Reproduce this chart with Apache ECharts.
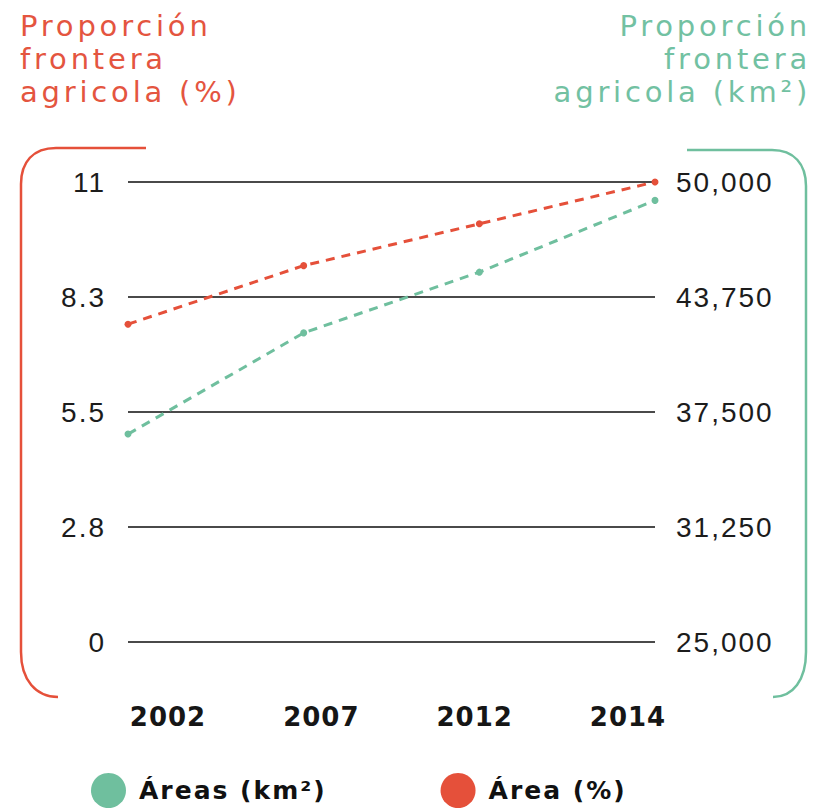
<!DOCTYPE html>
<html>
<head>
<meta charset="utf-8">
<script src="https://cdn.jsdelivr.net/npm/echarts@6/dist/echarts.min.js"></script>
<style>
  html, body { margin: 0; padding: 0; background: #fff; }
  #chart { width: 814px; height: 809px; }
  /* spaced lettering like the original typography */
  #chart text[fill="#e4553f"], #chart text[fill="#72c1a2"] { letter-spacing: 3.8px; }
  #chart text[fill="#1c1c1c"] { letter-spacing: 2px; }
  #chart text[fill="#111111"] { letter-spacing: 2px; }
  #chart text[fill="#161616"] { letter-spacing: 1px; }
</style>
</head>
<body>
<div id="chart"></div>
<script>
  // data
  var years = ['2002', '2007', '2012', '2014']
  var areaKm2 = [36300, 41800, 45100, 49000]   // Áreas (km²), right axis
  var areaPct = [7.6, 9.0, 10.0, 11.0]         // Área (%), left axis
  var leftTicks = ['0', '2.8', '5.5', '8.3', '11']
  var rightTicks = ['25,000', '31,250', '37,500', '43,750', '50,000']

  var RED = '#e5503a'
  var GREEN = '#6fbf9e'

  var chart = echarts.init(document.getElementById('chart'), null, { renderer: 'svg' })

  var tickStyle = {
    color: '#1c1c1c',
    fontFamily: 'Liberation Sans',
    fontSize: 28
  }

  // rounded bracket decorations
  function bracket (pts, color) {
    var s = { stroke: color, lineWidth: 2.5, fill: null }
    return [
      { type: 'line', shape: { x1: pts[0][0], y1: pts[0][1], x2: pts[1][0], y2: pts[1][1] }, style: s },
      { type: 'bezierCurve', shape: { x1: pts[1][0], y1: pts[1][1], cpx1: pts[2][0], cpy1: pts[2][1], cpx2: pts[3][0], cpy2: pts[3][1], x2: pts[4][0], y2: pts[4][1] }, style: s },
      { type: 'line', shape: { x1: pts[4][0], y1: pts[4][1], x2: pts[5][0], y2: pts[5][1] }, style: s },
      { type: 'bezierCurve', shape: { x1: pts[5][0], y1: pts[5][1], cpx1: pts[6][0], cpy1: pts[6][1], cpx2: pts[7][0], cpy2: pts[7][1], x2: pts[8][0], y2: pts[8][1] }, style: s }
    ]
  }

  var graphics = [
    {
      type: 'text',
      style: {
        text: 'Proporción\nfrontera\nagricola (%)',
        x: 20,
        y: 9,
        fill: '#e4553f',
        font: '29px "DejaVu Sans"',
        lineHeight: 33
      }
    },
    {
      type: 'text',
      style: {
        text: 'Proporción\nfrontera\nagricola (km²)',
        x: 811,
        y: 9,
        textAlign: 'right',
        fill: '#72c1a2',
        font: '29px "DejaVu Sans"',
        lineHeight: 33
      }
    }
  ]
  graphics = graphics
    .concat(bracket([[146, 148], [56, 148], [33, 148], [21, 162], [21, 184], [21, 652], [21, 680], [36, 697], [58, 697]], RED))
    .concat(bracket([[687, 150], [772, 150], [794, 150], [806, 164], [806, 186], [806, 652], [806, 680], [793, 697], [773, 697]], GREEN))

  chart.setOption({
    animation: false,
    backgroundColor: '#fff',
    grid: [
      { left: 128, right: 159, top: 182, bottom: 167 },
      // only used to place the year labels
      { left: 168, right: 186, top: 182, bottom: 167 }
    ],
    legend: {
      left: 86,
      top: 768,
      icon: 'circle',
      itemWidth: 35,
      itemHeight: 35,
      itemGap: 136,
      selectedMode: false,
      data: ['Áreas (km²)', 'Área (%)'],
      textStyle: {
        color: '#111111',
        fontFamily: 'DejaVu Sans',
        fontWeight: 'bold',
        fontSize: 25,
        padding: [0, 0, 0, 8]
      }
    },
    xAxis: [
      {
        type: 'category',
        gridIndex: 0,
        data: years,
        boundaryGap: false,
        axisLine: { show: false },
        axisTick: { show: false },
        axisLabel: { show: false }
      },
      {
        type: 'category',
        gridIndex: 1,
        data: years,
        boundaryGap: false,
        axisLine: { show: false },
        axisTick: { show: false },
        axisLabel: {
          margin: 62,
          color: '#161616',
          fontFamily: 'DejaVu Sans',
          fontWeight: 'bold',
          fontSize: 26
        }
      }
    ],
    yAxis: [
      {
        type: 'value',
        gridIndex: 0,
        min: 0,
        max: 11,
        interval: 2.75,
        axisLine: { show: false },
        axisTick: { show: false },
        splitLine: { lineStyle: { color: '#4a4a4a', width: 2 } },
        axisLabel: Object.assign({
          margin: 22,
          formatter: function (v, i) { return leftTicks[i] }
        }, tickStyle)
      },
      {
        type: 'value',
        gridIndex: 0,
        position: 'right',
        min: 25000,
        max: 50000,
        interval: 6250,
        axisLine: { show: false },
        axisTick: { show: false },
        splitLine: { show: false },
        axisLabel: Object.assign({
          margin: 21,
          formatter: function (v, i) { return rightTicks[i] }
        }, tickStyle)
      },
      { type: 'value', gridIndex: 1, show: false }
    ],
    graphic: graphics,
    series: [
      {
        name: 'Áreas (km²)',
        type: 'line',
        xAxisIndex: 0,
        yAxisIndex: 1,
        data: areaKm2,
        symbol: 'circle',
        symbolSize: 7,
        itemStyle: { color: GREEN },
        lineStyle: { color: GREEN, width: 3, type: [9, 7] }
      },
      {
        name: 'Área (%)',
        type: 'line',
        xAxisIndex: 0,
        yAxisIndex: 0,
        data: areaPct,
        symbol: 'circle',
        symbolSize: 7,
        itemStyle: { color: RED },
        lineStyle: { color: RED, width: 3, type: [9, 7] }
      }
    ]
  })
</script>
</body>
</html>
